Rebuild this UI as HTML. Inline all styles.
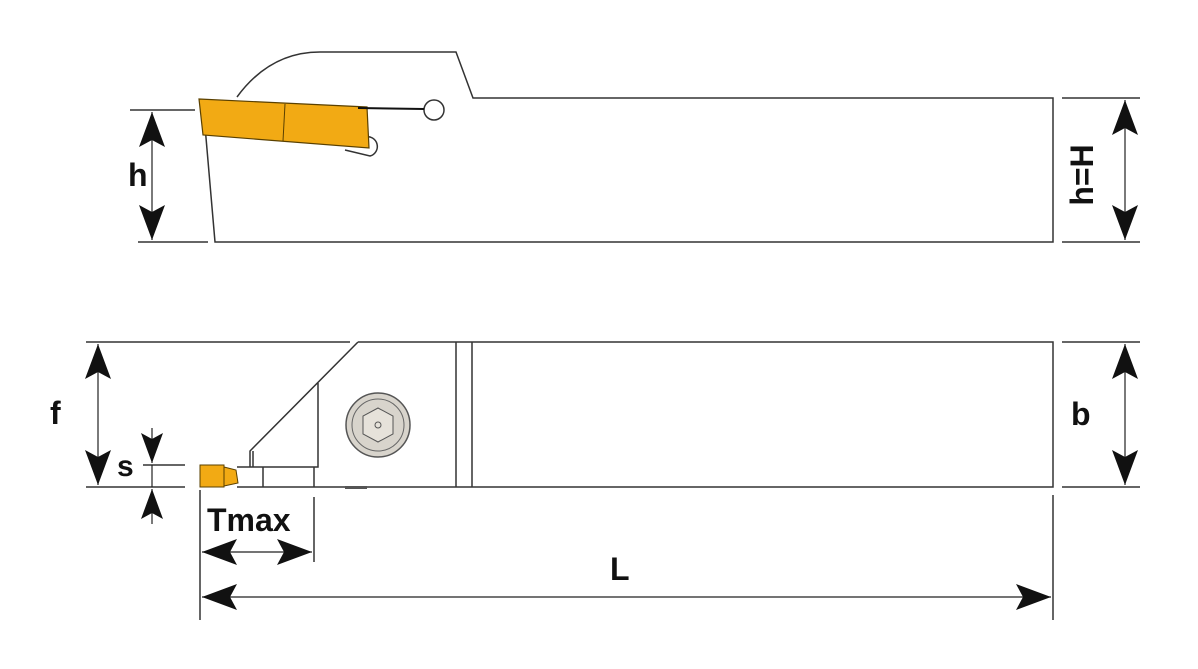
<!DOCTYPE html>
<html><head><style>body{margin:0;background:#fff}svg{display:block}text{font-family:"Liberation Sans",sans-serif;font-weight:bold;fill:#111}</style></head><body>
<svg width="1198" height="669" viewBox="0 0 1198 669">
<defs>
<marker id="a" viewBox="0 0 35 26" refX="35" refY="13" markerWidth="35" markerHeight="26" markerUnits="userSpaceOnUse" orient="auto-start-reverse"><path d="M0,0 L35,13 L0,26 L7,13z" fill="#111"/></marker>
<marker id="b" viewBox="0 0 30 22" refX="30" refY="11" markerWidth="30" markerHeight="22" markerUnits="userSpaceOnUse" orient="auto-start-reverse"><path d="M0,0 L30,11 L0,22 L6,11z" fill="#111"/></marker>
</defs>
<g fill="none" stroke="#333" stroke-width="1.5">
<path d="M237,97 Q270,52 320,52 L456,52 L473,98 L1053,98 L1053,242 L215,242 L203,103"/>
<line x1="130" y1="110" x2="195" y2="110"/><line x1="138" y1="242" x2="208" y2="242"/>
<line x1="1062" y1="98" x2="1140" y2="98"/><line x1="1062" y1="242" x2="1140" y2="242"/>
<circle cx="434" cy="110" r="10"/><path d="M365,137 A9,9 0 1 1 370,156 L345,150"/>
<path d="M86,342 L350,342 M358,342 L1053,342 L1053,487 L237,487 M358,342 L250,451 L250,467 M253,451 L253,467 M318,383 L318,467 L237,467 M263,467 L263,487 M314,467 L314,487 M456,342 L456,487 M472,342 L472,487"/>
<line x1="86" y1="487" x2="185" y2="487"/><line x1="143" y1="465" x2="185" y2="465"/>
<line x1="1062" y1="342" x2="1140" y2="342"/><line x1="1062" y1="487" x2="1140" y2="487"/>
<line x1="200" y1="490" x2="200" y2="620"/><line x1="314" y1="497" x2="314" y2="562"/><line x1="1053" y1="495" x2="1053" y2="620"/>
</g>
<polygon points="199,99 367,107 369,148 203,135" fill="#f2aa14" stroke="#5a4000" stroke-width="1.2"/>
<line x1="285" y1="104" x2="283" y2="141" stroke="#5a4000" stroke-width="1"/>
<line x1="358" y1="108" x2="424" y2="109" stroke="#111" stroke-width="2"/>
<circle cx="378" cy="425" r="32" fill="#d8d4cc" stroke="#555" stroke-width="1.5"/>
<circle cx="378" cy="425" r="26" fill="none" stroke="#666"/>
<polygon points="378,408 393,416 393,434 378,442 363,434 363,416" fill="#e6e2da" stroke="#555"/>
<circle cx="378" cy="425" r="3" fill="none" stroke="#555"/>
<rect x="200" y="465" width="24" height="22" fill="#f2aa14" stroke="#5a4000"/>
<polygon points="224,467 236,470 238,483 224,486" fill="#f2aa14" stroke="#5a4000"/>
<rect x="345" y="486" width="22" height="3" fill="#555"/>
<g stroke="#222" stroke-width="1.2" marker-start="url(#a)" marker-end="url(#a)">
<line x1="152" y1="112" x2="152" y2="240"/>
<line x1="1125" y1="100" x2="1125" y2="240"/>
<line x1="98" y1="344" x2="98" y2="485"/>
<line x1="1125" y1="344" x2="1125" y2="485"/>
<line x1="202" y1="552" x2="312" y2="552"/>
<line x1="202" y1="597" x2="1051" y2="597"/>
</g>
<g stroke="#222" stroke-width="1.2">
<line x1="152" y1="428" x2="152" y2="463" marker-end="url(#b)"/>
<line x1="152" y1="524" x2="152" y2="489" marker-end="url(#b)"/>
<line x1="152" y1="465" x2="152" y2="487"/>
</g>
<text x="128" y="186" font-size="32">h</text>
<text x="50" y="424" font-size="32">f</text>
<text x="117" y="476" font-size="30">s</text>
<text x="207" y="531" font-size="32">Tmax</text>
<text x="610" y="580" font-size="32">L</text>
<text x="1071" y="425" font-size="32">b</text>
<text transform="translate(1093,175) rotate(-90)" text-anchor="middle" font-size="32">h=H</text>
</svg>
</body></html>
